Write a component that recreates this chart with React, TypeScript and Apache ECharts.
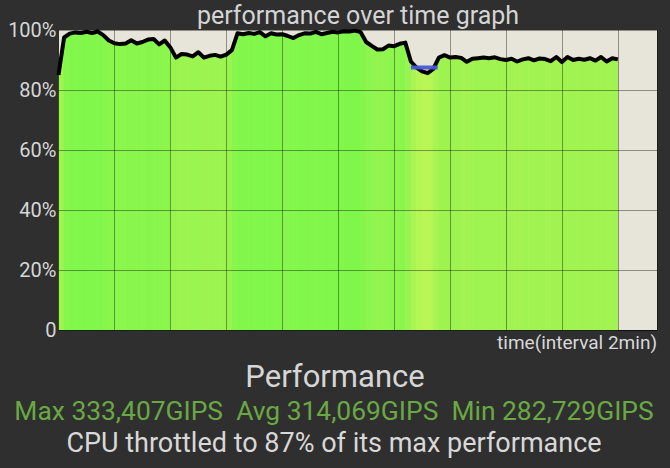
import React, { useEffect, useRef } from "react";
import * as echarts from "echarts";

// performance (% of max) sampled every 0.1 grid interval (interval = 2min)
const PERF: number[] = [
  85, 97.5, 98.8, 99.2, 99.0, 99.4, 99.0, 99.5, 98.3, 96.5,
  95.6, 95.3, 95.5, 96.6, 95.5, 96.0, 96.8, 97.0, 95.2, 96.5,
  94.2, 90.8, 92.0, 91.8, 91.2, 92.6, 90.8, 91.4, 91.7, 91.1,
  91.8, 93.3, 98.9, 98.6, 99.0, 98.7, 99.3, 97.9, 98.9, 98.5,
  98.6, 98.0, 97.3, 98.3, 98.9, 98.8, 99.4, 98.6, 99.0, 99.4,
  99.2, 99.6, 99.5, 99.8, 99.3, 96.0, 94.7, 93.5, 93.6, 94.8,
  94.6, 95.4, 95.8, 89.5, 87.5, 86.2, 85.6, 87.0, 90.8, 91.6,
  90.8, 91.0, 90.7, 89.4, 90.4, 90.6, 90.8, 90.6, 90.9, 90.3,
  90.0, 90.4, 89.5, 90.2, 90.6, 89.9, 90.5, 90.3, 89.6, 91.0,
  89.3, 91.0, 90.0, 90.4, 90.1, 90.6, 89.8, 91.0, 89.5, 90.6,
  90.2,
];
const SAMPLE_STEP = 0.1; // in grid intervals
const THROTTLE_LEVEL = 87.5;
const THROTTLE_RANGE: [number, number] = [6.3, 6.78];
const Y_TICKS = [0, 20, 40, 60, 80, 100];

const TITLE = "performance over time graph";
const X_NAME = "time(interval 2min)";
const HEADING = "Performance";
const STATS = "Max 333,407GIPS  Avg 314,069GIPS  Min 282,729GIPS";
const SUMMARY = "CPU throttled to 87% of its max performance";

const FONT = "Roboto, 'Noto Sans', sans-serif";

export default function App() {
  const ref = useRef<HTMLDivElement>(null);
  useEffect(() => {
    if (!ref.current) return;
    const chart = echarts.init(ref.current, undefined, { renderer: "svg" });
    const linePts = PERF.map((v, i) => [i * SAMPLE_STEP, v]);
    const areaPts = PERF.slice(0, -1).map((v, i) => {
      const n = PERF[i + 1];
      return [i * SAMPLE_STEP, v, (i + 1) * SAMPLE_STEP, n, (v + n) / 2];
    });
    chart.setOption({
      animation: false,
      backgroundColor: "#2f2f2f",
      textStyle: { fontFamily: FONT },
      grid: {
        left: 58.5,
        right: 13,
        top: 30,
        bottom: 138,
        show: true,
        backgroundColor: "#e7e5d9",
        borderWidth: 0,
        z: 0,
      },
      visualMap: {
        type: "continuous",
        show: false,
        seriesIndex: 0,
        dimension: 4,
        min: 85,
        max: 100,
        inRange: { color: ["#bff856", "#a2f450", "#8cf64d", "#7ef74a"] },
      },
      xAxis: {
        type: "value",
        min: 0,
        max: 10.7,
        interval: 1,
        z: 3,
        axisLabel: { show: false },
        axisTick: { show: false },
        axisLine: { show: true, lineStyle: { color: "rgba(0,0,0,0.45)", width: 1 } },
        splitLine: { show: true, lineStyle: { color: "rgba(0,0,0,0.38)", width: 1 } },
      },
      yAxis: {
        type: "value",
        min: 0,
        max: 100,
        interval: 20,
        z: 3,
        axisLine: { show: true, lineStyle: { color: "rgba(0,0,0,0.45)", width: 1 } },
        axisTick: { show: false },
        axisLabel: {
          color: "#d6d6d6",
          fontSize: 20,
          margin: 2,
          fontFamily: FONT,
          formatter: (v: number) => (v === 0 ? "0" : v + "%"),
          customValues: Y_TICKS,
        },
        splitLine: { show: true, lineStyle: { color: "rgba(0,0,0,0.38)", width: 1 } },
      },
      series: [
        {
          type: "custom",
          z: 1,
          data: areaPts,
          encode: { x: [0, 2], y: [1, 3] },
          renderItem: (params: any, api: any) => {
            const x0 = api.value(0);
            const v0 = api.value(1);
            const x1 = api.value(2);
            const v1 = api.value(3);
            const color = api.visual("color");
            return {
              type: "polygon",
              shape: {
                points: [
                  api.coord([x0, 0]),
                  api.coord([x0, v0]),
                  api.coord([x1, v1]),
                  api.coord([x1, 0]),
                ],
              },
              style: { fill: color, stroke: color, lineWidth: 0.6 },
            };
          },
        },
        {
          type: "line",
          z: 5,
          data: linePts,
          symbol: "none",
          lineStyle: { color: "#000", width: 4, join: "round" },
        },
        {
          type: "line",
          z: 6,
          data: [
            [THROTTLE_RANGE[0], THROTTLE_LEVEL],
            [THROTTLE_RANGE[1], THROTTLE_LEVEL],
          ],
          symbol: "none",
          lineStyle: { color: "#4a5ad8", width: 4, opacity: 0.95 },
        },
      ],
      graphic: [
        {
          type: "text",
          x: 358,
          y: 15,
          style: {
            text: TITLE,
            fill: "#d4d4d4",
            font: `25px ${FONT}`,
            textAlign: "center",
            textVerticalAlign: "middle",
          },
        },
        {
          type: "text",
          x: 657,
          y: 342,
          style: {
            text: X_NAME,
            fill: "#d8d8d8",
            font: `19px ${FONT}`,
            textAlign: "right",
            textVerticalAlign: "middle",
          },
        },
        {
          type: "text",
          x: 335,
          y: 376,
          style: {
            text: HEADING,
            fill: "#d6d6d6",
            font: `31px ${FONT}`,
            textAlign: "center",
            textVerticalAlign: "middle",
          },
        },
        {
          type: "text",
          x: 334,
          y: 411,
          style: {
            text: STATS,
            fill: "#6aa844",
            font: `26.4px ${FONT}`,
            textAlign: "center",
            textVerticalAlign: "middle",
          },
        },
        {
          type: "text",
          x: 334,
          y: 443,
          style: {
            text: SUMMARY,
            fill: "#d8d8d8",
            font: `27px ${FONT}`,
            textAlign: "center",
            textVerticalAlign: "middle",
          },
        },
      ],
    });
    return () => chart.dispose();
  }, []);
  return (
    <div
      ref={ref}
      style={{ position: "fixed", left: 0, top: 0, width: 670, height: 468 }}
    />
  );
}
